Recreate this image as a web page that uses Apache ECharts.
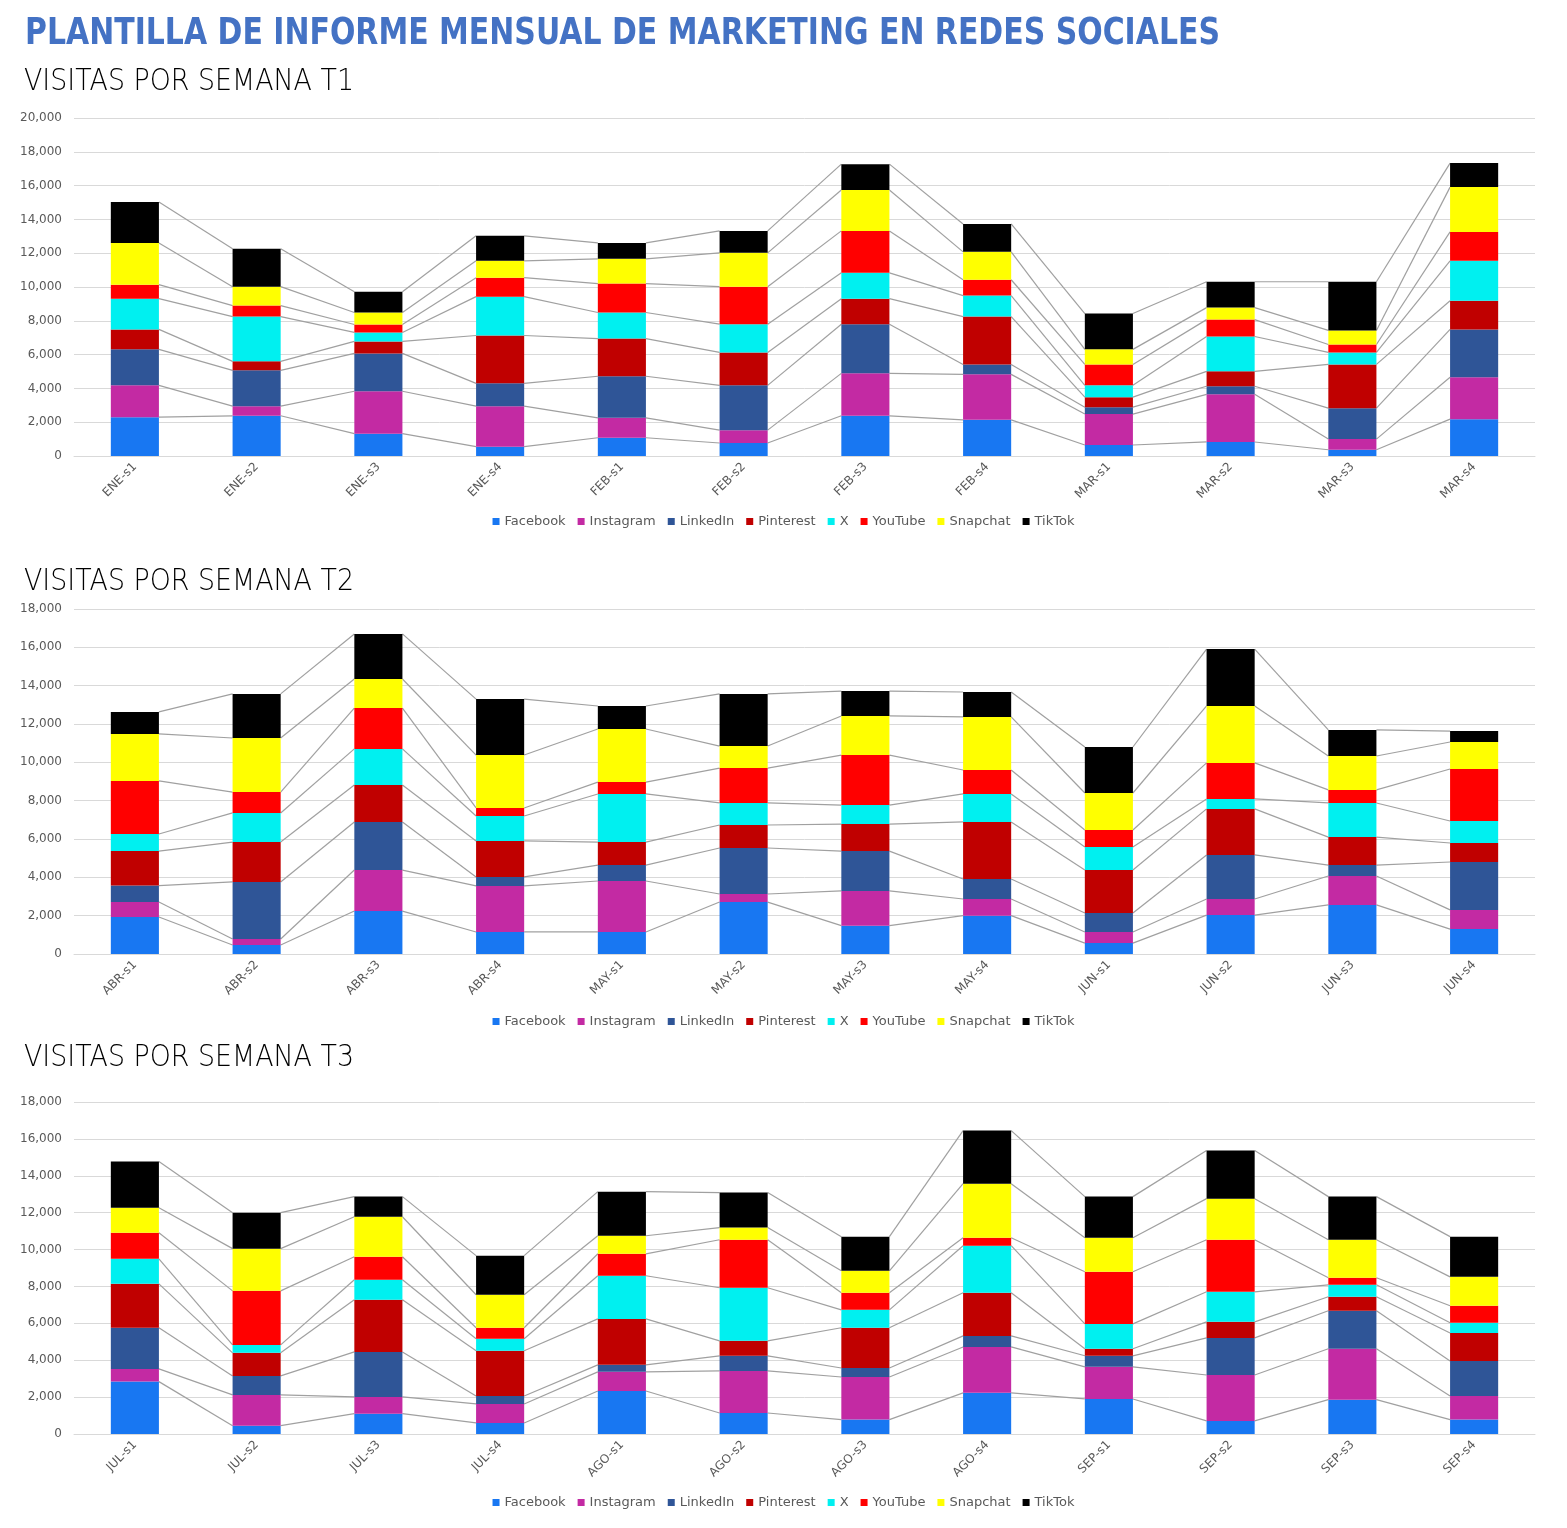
<!DOCTYPE html>
<html><head><meta charset="utf-8">
<script src="https://cdn.jsdelivr.net/npm/echarts@6/dist/echarts.min.js"></script>
<style>html,body{margin:0;padding:0;background:#fff}#c{width:1567px;height:1528px}</style>
</head><body><div id="c"></div>
<script>
const mainTitle = 'PLANTILLA DE INFORME MENSUAL DE MARKETING EN REDES SOCIALES';
const chartTitles = ['VISITAS POR SEMANA T1', 'VISITAS POR SEMANA T2', 'VISITAS POR SEMANA T3'];
const seriesNames = ['Facebook', 'Instagram', 'LinkedIn', 'Pinterest', 'X', 'YouTube', 'Snapchat', 'TikTok'];
const seriesColors = ['#1877F2', '#C32AA3', '#2F5597', '#C00000', '#00F0F0', '#FF0000', '#FFFF00', '#000000'];

// T1
const q1Categories = ['ENE-s1','ENE-s2','ENE-s3','ENE-s4','FEB-s1','FEB-s2','FEB-s3','FEB-s4','MAR-s1','MAR-s2','MAR-s3','MAR-s4'];
const q1Facebook  = [2300, 2380, 1320,  550, 1080,  770, 2380, 2140,  650,  830,  370, 2180];
const q1Instagram = [1880,  570, 2510, 2400, 1180,  760, 2510, 2690, 1830, 2820,  630, 2480];
const q1LinkedIn  = [2130, 2120, 2240, 1350, 2460, 2650, 2910,  590,  410,  480, 1830, 2830];
const q1Pinterest = [1180,  530,  710, 2830, 2230, 1950, 1510, 2830,  590,  880, 2590, 1700];
const q1X         = [1820, 2650,  530, 2300, 1540, 1670, 1530, 1240,  700, 2060,  710, 2360];
const q1YouTube   = [ 830,  650,  470, 1120, 1710, 2220, 2480,  940, 1240, 1000,  470, 1710];
const q1Snapchat  = [2470, 1120,  710, 1000, 1470, 2000, 2420, 1650,  890,  710,  830, 2650];
const q1TikTok    = [2420, 2240, 1230, 1480,  940, 1300, 1530, 1650, 2120, 1530, 2880, 1420];

// T2
const q2Categories = ['ABR-s1','ABR-s2','ABR-s3','ABR-s4','MAY-s1','MAY-s2','MAY-s3','MAY-s4','JUN-s1','JUN-s2','JUN-s3','JUN-s4'];
const q2Facebook  = [1930,  470, 2240, 1150, 1150, 2710, 1480, 2000,  570, 2030, 2560, 1300];
const q2Instagram = [ 780,  310, 2140, 2400, 2660,  420, 1810,  870,  580,  840, 1510, 1000];
const q2LinkedIn  = [ 860, 2980, 2510,  470,  830, 2400, 2080, 1040,  990, 2300,  570, 2500];
const q2Pinterest = [1800, 2080, 1930, 1880, 1200, 1200, 1410, 2980, 2240, 2400, 1460,  990];
const q2X         = [ 890, 1520, 1880, 1300, 2510, 1150,  990, 1460, 1200,  520, 1780, 1150];
const q2YouTube   = [2770, 1090, 2130,  420,  620, 1820, 2610, 1250,  890, 1880,  680, 2710];
const q2Snapchat  = [2450, 2820, 1520, 2760, 2770, 1150, 2040, 2770, 1930, 2970, 1770, 1410];
const q2TikTok    = [1150, 2300, 2350, 2920, 1200, 2720, 1300, 1300, 2400, 2970, 1360,  570];

// T3
const q3Categories = ['JUL-s1','JUL-s2','JUL-s3','JUL-s4','AGO-s1','AGO-s2','AGO-s3','AGO-s4','SEP-s1','SEP-s2','SEP-s3','SEP-s4'];
const q3Facebook  = [2840,  450, 1100,  600, 2330, 1140,  780, 2230, 1900,  710, 1860,  780];
const q3Instagram = [ 690, 1670,  910, 1030, 1040, 2280, 2310, 2490, 1740, 2490, 2760, 1280];
const q3LinkedIn  = [2230, 1030, 2440,  430,  380,  820,  490,  600,  600, 2010, 2060, 1900];
const q3Pinterest = [2380, 1250, 2830, 2450, 2490,  810, 2180, 2340,  380,  870,  760, 1520];
const q3X         = [1360,  430, 1080,  650, 2340, 2880,  970, 2550, 1350, 1630,  650,  550];
const q3YouTube   = [1410, 2930, 1250,  600, 1190, 2600,  930,  430, 2830, 2820,  380,  920];
const q3Snapchat  = [1360, 2290, 2170, 1790,  980,  660, 1190, 2930, 1840, 2230, 2060, 1570];
const q3TikTok    = [2500, 1950, 1090, 2120, 2390, 1900, 1850, 2880, 2230, 2610, 2340, 2180];

const yMax = [20000, 18000, 18000];
const yInterval = 2000;

// ---------- layout ----------
const layouts = [
  {top: 118, height: 338, titleY: 82, legendY: 518},
  {top: 609, height: 345, titleY: 582, legendY: 1018},
  {top: 1102, height: 332, titleY: 1058, legendY: 1499}
];
const quarters = [
  {cats: q1Categories, vals: [q1Facebook, q1Instagram, q1LinkedIn, q1Pinterest, q1X, q1YouTube, q1Snapchat, q1TikTok]},
  {cats: q2Categories, vals: [q2Facebook, q2Instagram, q2LinkedIn, q2Pinterest, q2X, q2YouTube, q2Snapchat, q2TikTok]},
  {cats: q3Categories, vals: [q3Facebook, q3Instagram, q3LinkedIn, q3Pinterest, q3X, q3YouTube, q3Snapchat, q3TikTok]}
];
const BAR_RATIO = 0.395;
const FONT = '"DejaVu Sans", sans-serif';
const TEXT_GRAY = '#595959';

const mctx = document.createElement('canvas').getContext('2d');
function fitScale(text, font, w) { mctx.font = font; return w / mctx.measureText(text).width; }

const grids = [], xAxes = [], yAxes = [], series = [], legends = [], graphics = [];
const mainFont = 'bold 37px "DejaVu Sans", sans-serif';
graphics.push({type: 'text', x: 25, y: 34, scaleX: fitScale(mainTitle, mainFont, 1195),
  style: {text: mainTitle, font: mainFont, fill: '#4472C4', textVerticalAlign: 'middle', verticalAlign: 'middle'}});

quarters.forEach((q, gi) => {
  const L = layouts[gi];
  const subFont = '200 30px "DejaVu Sans", sans-serif';
  graphics.push({type: 'text', x: 24, y: L.titleY, scaleX: fitScale(chartTitles[gi], subFont, 330),
    style: {text: chartTitles[gi], font: subFont, fill: '#000000', textVerticalAlign: 'middle', verticalAlign: 'middle'}});
  grids.push({left: 74, right: 32, top: L.top, height: L.height, containLabel: false});
  xAxes.push({type: 'category', gridIndex: gi, data: q.cats,
    axisLine: {lineStyle: {color: '#D9D9D9'}}, axisTick: {show: false},
    axisLabel: {rotate: 45, color: TEXT_GRAY, fontSize: 12, fontFamily: FONT, margin: 9, interval: 0}});
  yAxes.push({type: 'value', gridIndex: gi, min: 0, max: yMax[gi], interval: yInterval,
    axisLine: {show: false}, axisTick: {show: false},
    splitLine: {lineStyle: {color: '#D9D9D9'}},
    axisLabel: {color: TEXT_GRAY, fontSize: 12, fontFamily: FONT, margin: 12,
      formatter: v => v.toLocaleString('en-US')}});
  q.vals.forEach((arr, k) => {
    series.push({type: 'bar', name: seriesNames[k], xAxisIndex: gi, yAxisIndex: gi, stack: 'q' + gi,
      barWidth: (BAR_RATIO * 100) + '%', itemStyle: {color: seriesColors[k]}, data: arr, z: 2});
  });
  // series lines (connecting segment tops between adjacent bars)
  const n = q.cats.length;
  const cum = [];
  for (let i = 0; i < n; i++) {
    let s = 0; const row = [];
    for (let k = 0; k < q.vals.length; k++) { s += q.vals[k][i]; row.push(s); }
    cum.push(row);
  }
  const ldata = [];
  for (let i = 0; i < n - 1; i++) ldata.push([i].concat(cum[i], cum[i + 1]));
  const ns = q.vals.length;
  series.push({type: 'custom', name: 'serieslines' + gi, xAxisIndex: gi, yAxisIndex: gi, silent: true, z: 1,
    data: ldata, encode: {x: 0, y: 1},
    renderItem: function (params, api) {
      const i = api.value(0);
      const bw = api.size([1, 0])[0] * BAR_RATIO;
      const children = [];
      for (let k = 0; k < ns; k++) {
        const a = api.coord([i, api.value(1 + k)]);
        const b = api.coord([i + 1, api.value(1 + ns + k)]);
        children.push({type: 'line', shape: {x1: a[0] + bw / 2, y1: a[1], x2: b[0] - bw / 2, y2: b[1]},
          style: {stroke: '#A0A0A0', lineWidth: 1.2}});
      }
      return {type: 'group', children};
    }});
  legends.push({data: seriesNames, top: L.legendY - 8, left: 'center', icon: 'rect', itemWidth: 7, itemHeight: 7,
    itemGap: 12, selectedMode: false, textStyle: {color: TEXT_GRAY, fontSize: 13, fontFamily: FONT}});
});

const chart = echarts.init(document.getElementById('c'));
chart.setOption({
  animation: false,
  backgroundColor: '#ffffff',
  grid: grids, xAxis: xAxes, yAxis: yAxes, series: series, legend: legends, graphic: graphics
});
</script></body></html>
